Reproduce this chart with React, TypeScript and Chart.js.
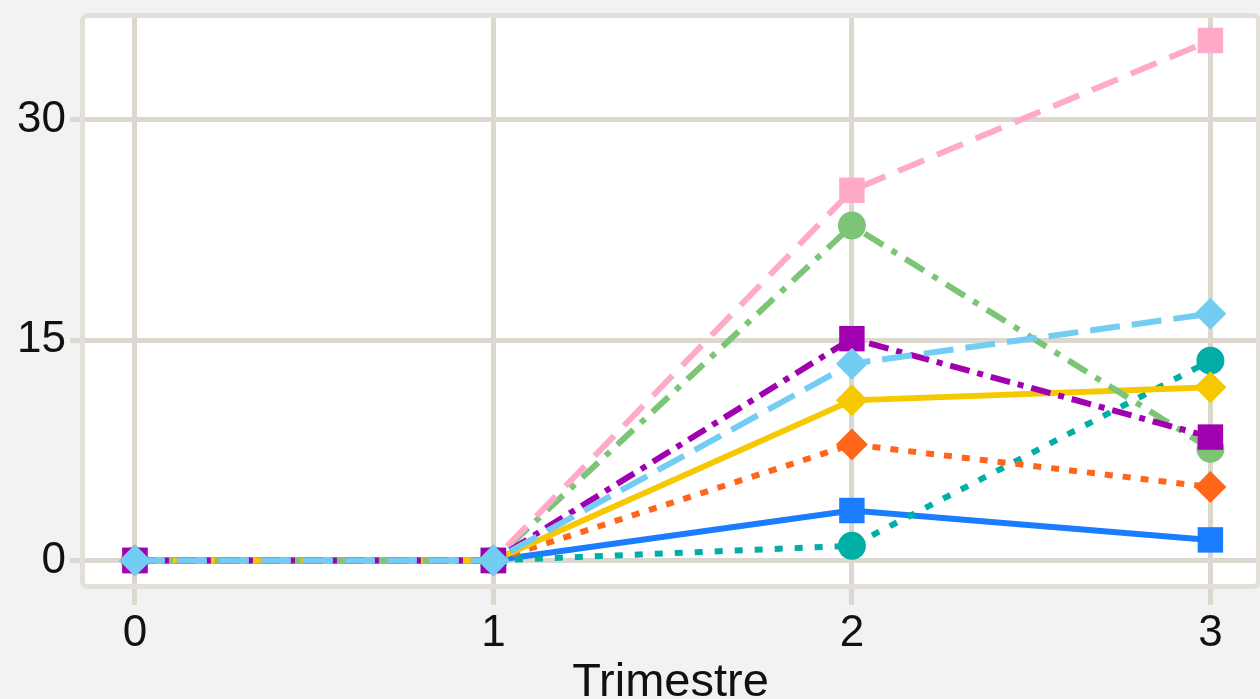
import React, { useEffect, useRef } from "react";
import { Chart, registerables } from "chart.js";

Chart.register(...registerables);

const quarters = [0, 1, 2, 3];
const yTickValues = [0, 15, 30];

const pinkValues = [0, 0, 25.2, 35.4];
const greenValues = [0, 0, 22.8, 7.6];
const lightBlueValues = [0, 0, 13.4, 16.8];
const purpleValues = [0, 0, 15.1, 8.4];
const yellowValues = [0, 0, 10.9, 11.8];
const orangeValues = [0, 0, 7.9, 5.0];
const blueValues = [0, 0, 3.4, 1.4];
const tealValues = [0, 0, 1.0, 13.6];

const toPoints = (vals: number[]) => quarters.map((q, i) => ({ x: q, y: vals[i] }));

const FONT = "Liberation Sans, Arial, sans-serif";

const plotBg = {
  id: "plotBg",
  beforeDraw(chart: any) {
    const { ctx, chartArea } = chart;
    ctx.save();
    ctx.fillStyle = "#ffffff";
    ctx.fillRect(chartArea.left, chartArea.top, chartArea.right - chartArea.left, chartArea.bottom - chartArea.top);
    ctx.restore();
  },
  beforeDatasetsDraw(chart: any) {
    const { ctx, chartArea } = chart;
    ctx.save();
    ctx.strokeStyle = "#e3e0da";
    ctx.lineWidth = 5;
    ctx.beginPath();
    (ctx as any).roundRect(chartArea.left - 1.5, chartArea.top - 1.5, chartArea.right - chartArea.left + 3, chartArea.bottom - chartArea.top + 3, 5);
    ctx.stroke();
    ctx.restore();
  },
};

export default function App() {
  const ref = useRef<HTMLCanvasElement | null>(null);
  useEffect(() => {
    document.body.style.margin = "0";
    document.body.style.background = "#f2f2f2";
    const mk = (label: string, vals: number[], color: string, dash: number[], style: string, r: number) => ({
      label,
      data: toPoints(vals),
      borderColor: color,
      backgroundColor: color,
      borderWidth: 6,
      borderDash: dash,
      pointStyle: style,
      pointRadius: r,
      pointHoverRadius: r,
      pointBorderWidth: 0,
      pointBackgroundColor: color,
      pointBorderColor: color,
      tension: 0,
      clip: false,
    });
    const chart = new Chart(ref.current as HTMLCanvasElement, {
      type: "line",
      data: {
        datasets: [
          mk("S3", lightBlueValues, "#73cdf3", [30, 12], "rectRot", 16),
          mk("S4", purpleValues, "#a100b0", [20, 8, 6, 8], "rect", 18),
          mk("S1", pinkValues, "#ffaac9", [28, 14], "rect", 18),
          mk("S2", greenValues, "#7cc576", [22, 10, 6, 10], "circle", 14),
          mk("S5", yellowValues, "#f5c800", [], "rectRot", 16),
          mk("S6", orangeValues, "#ff6619", [8, 10], "rectRot", 16),
          mk("S8", tealValues, "#00aea5", [8, 12], "circle", 14),
          mk("S7", blueValues, "#1a7cff", [], "rect", 18),
        ] as any,
      },
      options: {
        animation: false,
        responsive: false,
        maintainAspectRatio: false,
        layout: { autoPadding: false, padding: { top: 17, right: 3, left: 0, bottom: 0 } },
        plugins: { legend: { display: false }, tooltip: { enabled: false } },
        scales: {
          x: {
            type: "linear",
            min: -0.142,
            max: 3.13,
            afterBuildTicks: (s: any) => {
              s.ticks = quarters.map((v) => ({ value: v }));
            },
            grid: { color: "#dcd8d0", lineWidth: 5, tickLength: 20, drawOnChartArea: true },
            border: { display: false },
            ticks: {
              color: "#111",
              font: { family: FONT, size: 44 },
              padding: 2,
              maxRotation: 0,
            },
            title: {
              display: true,
              text: "Trimestre",
              color: "#111",
              font: { family: FONT, size: 47 },
              padding: { top: 0, bottom: -12 },
            },
            afterFit: (s: any) => {
              s.height = 114;
              s.paddingLeft = 0;
              s.paddingRight = 0;
            },
          },
          y: {
            type: "linear",
            min: -1.67,
            max: 37.0,
            afterBuildTicks: (s: any) => {
              s.ticks = yTickValues.map((v) => ({ value: v }));
            },
            grid: { color: "#dcd8d0", lineWidth: 5, tickLength: 14 },
            border: { display: false },
            ticks: {
              color: "#111",
              font: { family: FONT, size: 44 },
              padding: 4,
            },
            afterFit: (s: any) => {
              s.width = 84;
              s.paddingTop = 0;
              s.paddingBottom = 0;
            },
          },
        },
      },
      plugins: [plotBg],
    });
    return () => chart.destroy();
  }, []);
  return (
    <div style={{ width: 1260, height: 699, background: "#f2f2f2" }}>
      <canvas ref={ref} width={1260} height={699} style={{ display: "block" }} />
    </div>
  );
}
